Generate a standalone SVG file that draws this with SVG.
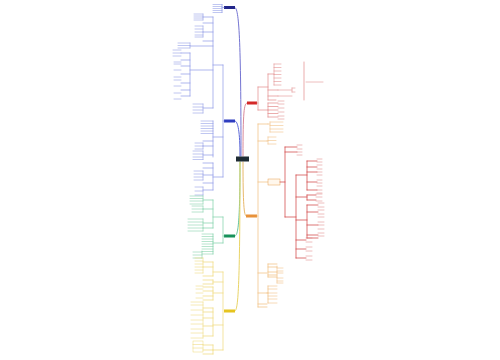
<svg xmlns="http://www.w3.org/2000/svg" width="500" height="360" viewBox="0 0 500 360">
<style>
path{fill:none;stroke-linecap:round}
.main{stroke-width:1}
.br{stroke-width:0.7}
.lf{stroke-width:0.55}
.cb1{stroke:#7474d2}.cb2{stroke:#5a66d8}.cr{stroke:#d98a9a}.co{stroke:#e8b86a}.cg{stroke:#66c49a}.cy{stroke:#e9d466}
.b{stroke:#8c98e6}.r{stroke:#e28a8a}.rd{stroke:#cf3a3a}.o{stroke:#f1bd7c}.g{stroke:#7cd0a6}.y{stroke:#efd97a}
</style>
<rect width="500" height="360" fill="#ffffff"/>
<g id="connectors">
<path class="main cb1" d="M241,156 C241,40 239,7.5 235,7.5"/>
<path class="main cb2" d="M240,156 C240,132 238,121 235,121"/>
<path class="main cr" d="M243,156 C243,112 244,103 247,103"/>
<path class="main co" d="M243,162 C243,204 244,216 246,216"/>
<path class="main cg" d="M240,162 C240,224 238,236 235,236"/>
<path class="main cy" d="M240,162 C240,290 238,311 235,311"/>
</g>
<g id="center"><rect x="236" y="156.5" width="13" height="5" fill="#1e2b33"/></g>
<g id="blue1">
<rect x="224" y="6" width="11" height="3" fill="#22268a"/>
<path class="br b" d="M222,4.5V12.5 M222,7.5H224"/>
<path class="lf b" d="M213,4.5H222 M213,6.5H222 M213,8.5H222 M213,10.5H222 M213,12.5H222"/>
</g>
<g id="blue2">
<rect x="224" y="119.5" width="11" height="3" fill="#2e3cbf"/>
<path class="br b" d="M224,121H223 M223,65V177 M213,65H223 M213,137H223 M213,177H223"/>
<path class="br b" d="M213,17V108 M203,17H213 M203,23H213 M203,32H213 M203,41H213 M190,46H213 M190,70H213 M203,108H213"/>
<path class="lf b" d="M203,14V20 M194,14H203 M194,16H203 M194,18H203 M194,20H203 M203,26V37 M195,26H203 M195,29H203 M195,32H203 M195,35H203 M195,37H203 M190,43V48 M178,43H190 M178,45.5H190 M178,48H190"/>
<path class="br b" d="M190,53V96 M181,53H190 M181,60H190 M181,66H190 M181,74H190 M181,83H190 M181,90H190 M181,96H190"/>
<path class="lf b" d="M173,50H181 M173,53H181 M173,56H181 M174,62H181 M174,64H181 M174,70H181 M174,77H181 M174,80H181 M174,86H181 M174,93H181 M174,99H181 M203,104V113 M193,104H203 M193,107H203 M193,110H203 M193,113H203"/>
<path class="br b" d="M213,121V157 M203,141H213 M203,146H213 M203,155H213"/>
<path class="lf b" d="M201,121H213 M201,123.5H213 M201,126H213 M201,128.5H213 M201,131H213 M201,133.5H213 M203,143V149 M195,143H203 M195,146H203 M195,149H203 M203,151V159.5 M193,151H203 M193,154H203 M193,157H203 M193,159.5H203"/>
<path class="br b" d="M213,163V190 M203,163H213 M203,168H213 M203,175H213 M203,183H213 M203,190H213"/>
<path class="lf b" d="M203,171V180 M194,171H203 M194,174H203 M194,177H203 M194,180H203 M203,187V195 M195,187H203 M195,191H203 M195,195H203"/>
</g>
<g id="green">
<rect x="224" y="234.5" width="11" height="3" fill="#16915a"/>
<path class="br g" d="M223,217V243 M213,217H223 M213,243H223 M224,236H223"/>
<path class="br g" d="M213,200V228 M203,200H213 M203,209H213 M203,223H213 M203,228H213"/>
<path class="lf g" d="M203,196V204 M190,196H203 M190,198.5H203 M190,201H203 M190,204H203 M203,206V212 M192,206H203 M192,209H203 M192,212H203 M203,219V231 M188,219H203 M188,222H203 M188,225H203 M188,228H203 M188,231H203"/>
<path class="br g" d="M213,234V254"/>
<path class="lf g" d="M202,234H213 M202,236.5H213 M202,239H213 M202,241.5H213 M202,244H213 M202,246.5H213 M202,249H213 M202,251.5H213 M202,254H213 M202,251V258 M193,252H202 M193,255H202 M193,258H202"/>
</g>
<g id="yellow">
<rect x="224" y="309.5" width="11" height="3" fill="#e6c41e"/>
<path class="br y" d="M223,272V350 M213,272H223 M213,282H223 M213,293H223 M213,325H223 M213,350H223"/>
<path class="br y" d="M213,262V276 M203,262H213 M203,267H213 M203,276H213 M213,280V284 M203,280H213 M203,284H213 M213,287V300 M203,287H213 M203,291H213 M203,296H213 M203,300H213 M213,308V336 M203,308H213 M203,312H213 M203,318H213 M203,326H213 M203,336H213 M213,345V354 M203,345H213 M203,350H213 M203,354H213"/>
<path class="lf y" d="M203,258V273 M195,258H203 M195,261H203 M195,264H203 M195,267H203 M195,270H203 M195,273H203 M196,286H203 M196,289H203 M196,293H203 M196,298H203 M203,302V338 M191,302H203 M191,305H203 M191,310H203 M191,315H203 M191,320H203 M191,324H203 M191,329H203 M191,333H203 M191,338H203"/>
<rect x="193" y="341" width="10" height="11" fill="none" stroke="#efd97a" stroke-width="0.5"/>
<path class="lf y" d="M193,344.5H203 M193,348H203"/>
</g>
<g id="red">
<rect x="247" y="101.5" width="10" height="3" fill="#d42828"/>
<path class="br r" d="M257,103H258 M258,87V110 M258,87H268 M258,110H268"/>
<path class="br r" d="M268,74V100 M268,74H274 M268,90H278 M268,96H278 M268,100H276"/>
<path class="lf r" d="M274,64V85 M274,64H281 M274,67.5H281 M274,71H281 M274,74.5H281 M274,78H281 M274,81.5H281 M274,85H281 M278,90H292 M278,96H292 M292,88V92 M292,88H295 M292,92H295"/>
<path class="br r" d="M304,62V100"/>
<path class="lf r" d="M306,82H323"/>
<path class="br r" d="M268,103V117 M268,103H278 M268,106.5H278 M268,110H278 M268,113.5H278 M268,117H278"/>
<path class="lf r" d="M278,101H284 M278,104H284 M278,108H284 M278,112H284 M278,116H284 M278,119H284"/>
</g>
<g id="orange">
<rect x="246" y="214.5" width="11" height="3" fill="#e8923a"/>
<path class="br o" d="M257,216H258 M258,124V307 M258,124H268 M258,141H267 M258,182H268 M258,273H267 M258,293H267 M258,304H267 M258,307H267"/>
<path class="lf o" d="M268,124H270 M270,122V132 M270,122H283 M270,125.5H283 M270,129H283 M270,132H283 M267,141H268 M268,137V144 M268,137H276 M268,140.5H276 M268,144H276"/>
<rect x="268" y="179" width="12" height="6" fill="#fff7ec" stroke="#e8a050" stroke-width="0.5"/>
<path class="br rd" d="M280,182H285 M285,147V217 M285,147H297 M285,152H297 M285,217H296 M296,175V258 M296,175H307 M296,197H307 M296,220H307 M296,240H306 M296,249H306 M296,258H306"/>
<path class="lf r" d="M297,145H302 M297,149H302 M297,152H302 M297,155H302"/>
<path class="br rd" d="M307,161V190 M307,161H317 M307,167H317 M307,172H317 M307,182H317 M307,190H317 M307,195V200 M307,195H316 M307,200H316 M307,205V238 M307,205H318 M307,212H318 M307,225H318 M307,235H318 M307,238H318"/>
<path class="lf r" d="M317,159H322 M317,162H322 M317,165H322 M317,169H322 M317,172H322 M317,175H322 M317,180H322 M317,183H322 M317,186H322 M317,190H322 M317,193H322 M316,194H322 M316,197H322 M316,201H322 M318,203H324 M318,207H324 M318,210H324 M318,214H324 M318,217H324 M318,222H324 M318,225H324 M318,229H324 M318,233H324 M318,236H324 M306,238H312 M306,242H312 M306,247H312 M306,251H312 M306,256H312 M306,260H312"/>
<path class="br o" d="M268,264V277 M268,264H277 M268,267H277 M268,272H277 M268,275H277 M268,277H277 M267,293H268 M268,286V303"/>
<path class="lf o" d="M277,266V283 M277,268H283 M277,271H283 M277,273H283 M277,278H283 M277,281H283 M277,283H283 M268,286H277 M268,289H277 M268,293H277 M268,296H277 M268,299H277 M268,303H277"/>
</g>
</svg>
